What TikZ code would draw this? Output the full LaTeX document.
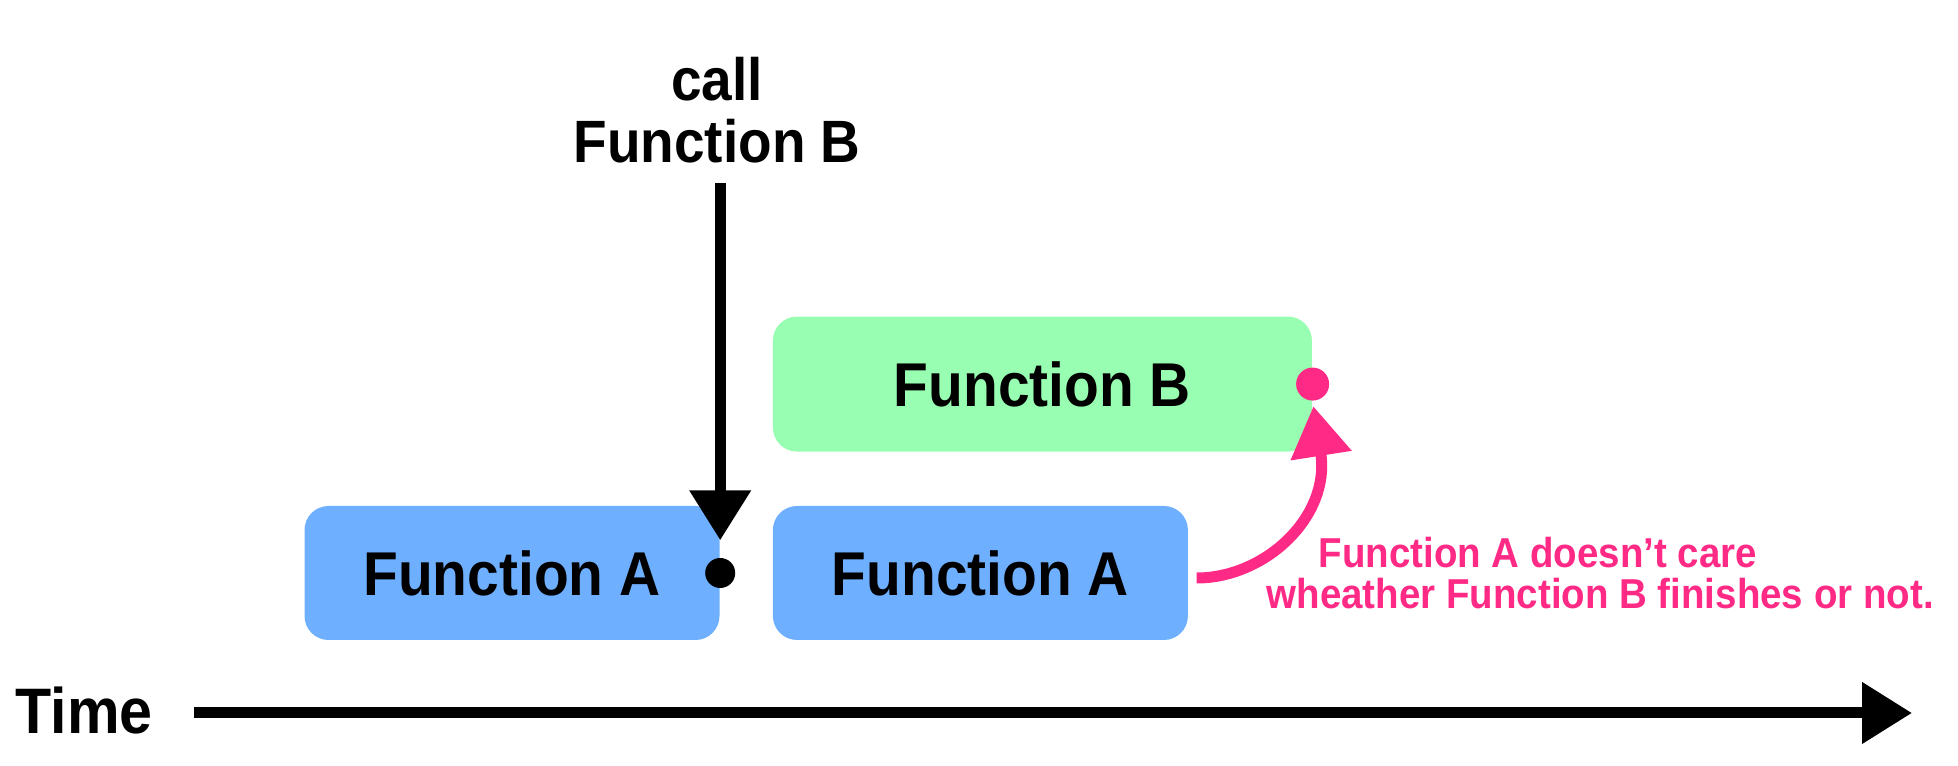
\documentclass[tikz,border=0pt]{standalone}
\usepackage{fontspec}
\newfontfamily\robfont{Liberation Sans}[FakeStretch=0.92]
\usetikzlibrary{positioning}
\usetikzlibrary{arrows.meta}
\definecolor{boxblue}{RGB}{110,176,255}
\definecolor{boxgreen}{RGB}{152,255,178}
\definecolor{notepink}{RGB}{255,42,133}
\tikzset{
	every node/.style = {font=\robfont\bfseries\fontsize{17.6}{21}\selectfont},
	funcbox/.style = {rectangle, rounded corners=0.24cm, minimum width=4.15cm, minimum height=1.34cm, inner sep=0pt},
	enddot/.style = {circle, inner sep=0pt, minimum size=0.3cm},
	bigtip/.style = {-{Triangle[length=0.5cm, width=0.59cm]}, line width=0.11cm},
	notetext/.style = {text=notepink, anchor=base west, inner sep=0pt, font=\robfont\bfseries\fontsize{11.9}{14}\selectfont}
}

\begin{document}
\begin{tikzpicture}
		\useasboundingbox (0,0) rectangle (19.58,7.66);
		% boxes
		\node[funcbox, fill=boxblue] (fa1) at (5.12,1.93) {Function A};
		\node[funcbox, fill=boxblue, right=0.52cm of fa1] (fa2) {Function A};
		\node[funcbox, fill=boxgreen, minimum width=5.39cm, minimum height=1.35cm, above=0.53cm of fa2.north west, anchor=south west] (fb) {Function B};
		
		% dots
		\node[enddot, fill=black] (adot) at (fa1.east) {};
		\node[enddot, fill=notepink, minimum size=0.33cm] (bdot) at (fb.east) {};
		
		% call
		\node[align=center, font=\robfont\bfseries\fontsize{17}{17.6}\selectfont] (callb) at (7.17,6.56) {call\\Function B};
		\draw[bigtip, shorten <=0.08cm, shorten >=0.17cm] (adot |- callb.south) -- (adot.north);
		
		% no wait
		\draw[bigtip, notepink, shorten >=0.05cm] ([xshift=0.08cm, yshift=-0.05cm]fa2.east) .. controls +(0.69,0) and +(0.18,-1.15) .. (bdot.south);
		\node[notetext] (note1) at (13.18,1.98) {Function A doesn’t care};
		\node[notetext] (note2) at (12.66,1.57) {wheather Function B finishes or not.};
		
		% time
		\node[anchor=base west, inner sep=0pt, font=\robfont\bfseries\fontsize{18.3}{22}\selectfont] (time) at (0.15,0.32) {Time};
		\coordinate (tstart) at (1.94,0.53);
		\coordinate (tend) at (19.12,0.53);
		\draw[bigtip] (tstart) -- (tend);
	\end{tikzpicture}
\end{document}
